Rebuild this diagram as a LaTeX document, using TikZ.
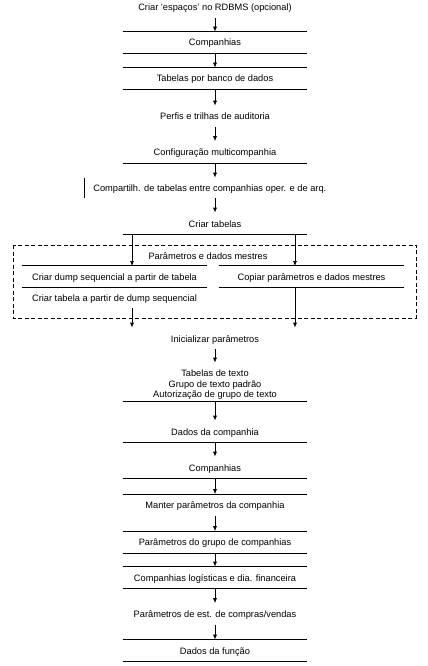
\documentclass[tikz,border=0pt]{standalone}
\usepackage{fontspec}
\setmainfont{Liberation Sans}
\usetikzlibrary{arrows.meta}

\begin{document}
\begin{tikzpicture}[x=1bp,y=-1bp,line width=0.7bp]
	\tikzstyle{etapa}=[inner sep=0pt,minimum width=184bp,minimum height=21bp,text height=8bp,text depth=1bp,font=\fontsize{9.3}{10.5}\selectfont];
	\tikzstyle{lado}=[etapa,minimum width=185bp];
	\tikzstyle{seta}=[-{Latex[length=5bp,width=4bp]}];
	\tikzstyle{grupo}=[dash pattern=on 4bp off 2.5bp];
	\useasboundingbox (0,0) rectangle (427,666);

	\node[etapa] (rdbms)    at (215,7)     {Criar 'espaços' no RDBMS (opcional)};
	\node[etapa] (comp1)    at (215,42.5)  {Companhias};
	\node[etapa] (tabbd)    at (215,78.5)  {Tabelas por banco de dados};
	\node[etapa] (perfis)   at (215,116.5) {Perfis e trilhas de auditoria};
	\node[etapa] (config)   at (215,152)   {Configuração multicompanhia};
	\node[etapa,minimum width=0pt,inner xsep=9bp,minimum height=20bp,anchor=west] (compart) at (84,188)
		{Compartilh. de tabelas entre companhias oper. e de arq.};
	\node[etapa] (criar)    at (215,223.5) {Criar tabelas};

	% grupo tracejado
	\draw[grupo] (13,245) rectangle (416,318);
	\node[etapa] (param)    at (208,255.5) {Parâmetros e dados mestres};
	\node[lado]  (dump)     at (114.5,276.5) {Criar dump sequencial a partir de tabela};
	\node[lado]  (copiar)   at (311.5,276.5) {Copiar parâmetros e dados mestres};
	\node[lado]  (tabdump)  at (114.5,297.5) {Criar tabela a partir de dump sequencial};
	\coordinate (la) at (132,266);
	\coordinate (ra) at (295,266);

	\node[etapa] (init)     at (215,338.5) {Inicializar parâmetros};
	\node[etapa,align=center,minimum height=38bp,text height=33bp,text depth=1.9bp] (texto) at (215,382)
		{Tabelas de texto\\Grupo de texto padrão\\Autorização de grupo de texto};
	\node[etapa] (dados)    at (215,431.5) {Dados da companhia};
	\node[etapa] (comp2)    at (215,467.5) {Companhias};
	\node[etapa] (manter)   at (215,505)   {Manter parâmetros da companhia};
	\node[etapa] (pargrupo) at (215,542)   {Parâmetros do grupo de companhias};
	\node[etapa] (complog)  at (215,577.5) {Companhias logísticas e dia. financeira};
	\node[etapa] (parest)   at (215,614)   {Parâmetros de est. de compras/vendas};
	\node[etapa] (funcao)   at (215,650.5) {Dados da função};

	% linhas
	\draw (comp1.north west) -- (comp1.north east) (comp1.south west) -- (comp1.south east);
	\draw (tabbd.north west) -- (tabbd.north east) (tabbd.south west) -- (tabbd.south east);
	\draw (config.south west) -- (config.south east);
	\draw (compart.north west) -- (compart.south west);
	\draw (criar.south west) -- (criar.south east);
	\draw (dump.north west) -- (dump.north east) (dump.south west) -- (dump.south east);
	\draw (copiar.north west) -- (copiar.north east) (copiar.south west) -- (copiar.south east);
	\draw (texto.south west) -- (texto.south east);
	\draw (dados.south west) -- (dados.south east);
	\draw (comp2.south west) -- (comp2.south east);
	\draw (manter.north west) -- (manter.north east);
	\draw (pargrupo.north west) -- (pargrupo.north east) (pargrupo.south west) -- (pargrupo.south east);
	\draw (complog.north west) -- (complog.north east) (complog.south west) -- (complog.south east);
	\draw (funcao.north west) -- (funcao.north east) (funcao.south west) -- (funcao.south east);

	% setas
	\draw[seta] (rdbms) -- (comp1);
	\draw[seta] (comp1) -- (tabbd);
	\draw[seta] (tabbd) -- (perfis);
	\draw[seta] (perfis) -- (config);
	\draw[seta] (config.south) -- (config.south |- compart.north);
	\draw[seta] (compart.south -| criar) -- (criar.north);
	\draw[seta] (criar.south -| la) -- (la);
	\draw[seta] (criar.south -| ra) -- (ra);
	\draw[seta] (tabdump.south -| la) -- (init.north -| la);
	\draw[seta] (copiar.south -| ra) -- (init.north -| ra);
	\draw[seta] (init) -- (texto);
	\draw[seta] (texto) -- (dados);
	\draw[seta] (dados) -- (comp2);
	\draw[seta] (comp2) -- (manter);
	\draw[seta] (manter) -- (pargrupo);
	\draw[seta] (pargrupo) -- (complog);
	\draw[seta] (complog) -- (parest);
	\draw[seta] (parest) -- (funcao);
\end{tikzpicture}
\end{document}
